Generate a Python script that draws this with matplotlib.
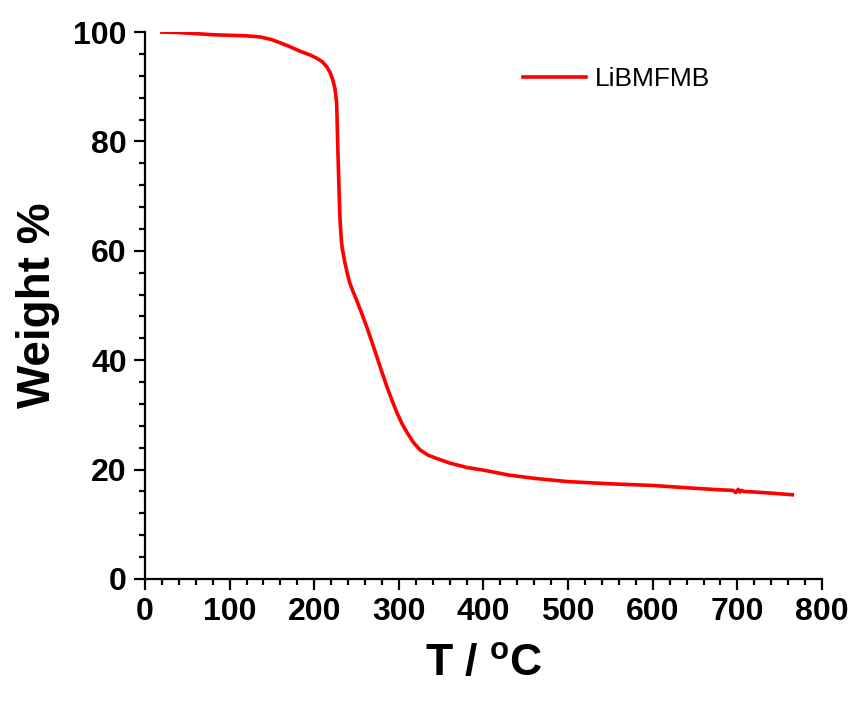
import matplotlib
matplotlib.use("Agg")
import matplotlib.pyplot as plt
from matplotlib.ticker import AutoMinorLocator

plt.rcParams['font.family'] = ['Liberation Sans', 'DejaVu Sans']
plt.rcParams['mathtext.fontset'] = 'custom'
plt.rcParams['mathtext.rm'] = 'Liberation Sans'
plt.rcParams['mathtext.bf'] = 'Liberation Sans:bold'

# Data (TGA curve)
temperature = [20, 40, 60, 80, 100, 120, 136, 150, 160, 170, 183, 195, 203, 210, 215, 219,
               222, 224.5, 226.5, 228, 229.5, 230.5, 232, 233, 236, 239, 242, 246, 250, 256, 262,
               268, 274, 280, 286, 292, 298, 304, 310, 317, 325, 335, 349, 360, 380, 400, 430,
               460, 500, 550, 600, 648, 680, 695, 698, 701, 703, 705, 708, 720, 740, 765]
weight = [100.0, 99.9, 99.7, 99.5, 99.4, 99.3, 99.1, 98.6, 98.0, 97.4, 96.5, 95.8, 95.2, 94.5,
          93.6, 92.5, 91.2, 89.6, 87.0, 78.0, 70.0, 65.6, 62.0, 60.5, 58.0, 55.9, 54.1, 52.5,
          51.0, 48.6, 46.1, 43.4, 40.6, 37.8, 35.1, 32.6, 30.3, 28.3, 26.7, 25.0, 23.6, 22.6,
          21.8, 21.2, 20.4, 19.9, 19.0, 18.4, 17.8, 17.4, 17.1, 16.6, 16.3, 16.2, 15.8, 16.4,
          15.9, 16.2, 16.0, 15.9, 15.7, 15.4]
series_label = "LiBMFMB"
x_ticks = [0, 100, 200, 300, 400, 500, 600, 700, 800]
y_ticks = [0, 20, 40, 60, 80, 100]

fig = plt.figure(figsize=(8.54, 7.03), dpi=100)
ax = fig.add_axes([145/854, 1-579/703, 677/854, 547/703])

ax.plot(temperature, weight, color='#FF0000', lw=2.6, label=series_label)

ax.set_xlim(0, 800)
ax.set_ylim(0, 100)
ax.set_xticks(x_ticks)
ax.set_yticks(y_ticks)
ax.xaxis.set_minor_locator(AutoMinorLocator(5))
ax.yaxis.set_minor_locator(AutoMinorLocator(5))

for s in ['top', 'right']:
    ax.spines[s].set_visible(False)
for s in ['left', 'bottom']:
    ax.spines[s].set_linewidth(1.6)

ax.tick_params(which='major', direction='out', length=8, width=1.6, pad=5, labelsize=23)
ax.tick_params(which='minor', direction='out', length=4, width=1.6)
for lab in ax.get_xticklabels() + ax.get_yticklabels():
    lab.set_fontweight('bold')

ax.set_xlabel("T / $^{\\mathbf{o}}$C", fontsize=32, fontweight='bold', labelpad=12)
ax.set_ylabel("Weight %", fontsize=33, fontweight='bold', labelpad=10)

ax.legend(loc='center left', bbox_to_anchor=(0.558, 0.914), frameon=False,
          fontsize=19, handlelength=2.4, handletextpad=0.35, borderpad=0, borderaxespad=0)

fig.savefig("out.png", dpi=100)
